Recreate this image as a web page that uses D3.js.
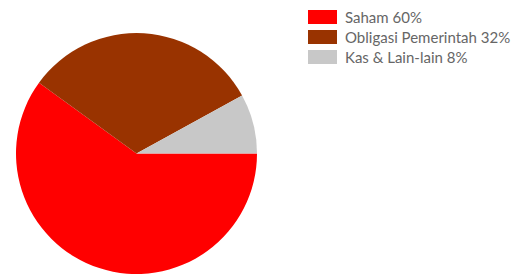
<!DOCTYPE html>
<html lang="en">
<head>
    <meta charset="UTF-8">
    <title>Alokasi Aset</title>
    <style>
        body {
            margin: 0;
            padding: 0;
            background-color: #fff;
        }
        .legend-text {
            font-family: Lato, "Open Sans", sans-serif;
            font-size: 15px;
            fill: #666;
        }
    </style>
</head>
<body>
<div id="chart"></div>

<script src="https://d3js.org/d3.v7.min.js"></script>
<script>
    // chart data
    const categories = ["Saham", "Obligasi Pemerintah", "Kas & Lain-lain"];
    const shares = [60, 32, 8];
    const colors = ["#ff0000", "#993300", "#c8c8c8"];

    const svgWidth = 526;
    const svgHeight = 276;
    const cx = 136.5, cy = 153.5, radius = 120.5;

    const svg = d3.select("#chart")
        .append("svg")
        .attr("width", svgWidth)
        .attr("height", svgHeight);

    const data = categories.map((c, i) => ({ name: c, value: shares[i], color: colors[i] }));

    // first slice starts at 3 o'clock, going clockwise
    const pie = d3.pie()
        .value(d => d.value)
        .sort(null)
        .startAngle(Math.PI / 2)
        .endAngle(Math.PI / 2 + 2 * Math.PI);

    const arc = d3.arc().innerRadius(0).outerRadius(radius);

    svg.append("g")
        .attr("transform", "translate(" + cx + "," + cy + ")")
        .selectAll("path")
        .data(pie(data))
        .join("path")
        .attr("d", arc)
        .attr("fill", d => d.data.color);

    // legend
    const legend = svg.append("g")
        .attr("transform", "translate(308,10)");

    const rows = legend.selectAll("g")
        .data(data)
        .join("g")
        .attr("transform", (d, i) => "translate(0," + i * 20 + ")");

    rows.append("rect")
        .attr("width", 29)
        .attr("height", 14)
        .attr("fill", d => d.color);

    rows.append("text")
        .attr("class", "legend-text")
        .attr("x", 37)
        .attr("y", 12.5)
        .text(d => d.name + " " + d.value + "%");
</script>
</body>
</html>
